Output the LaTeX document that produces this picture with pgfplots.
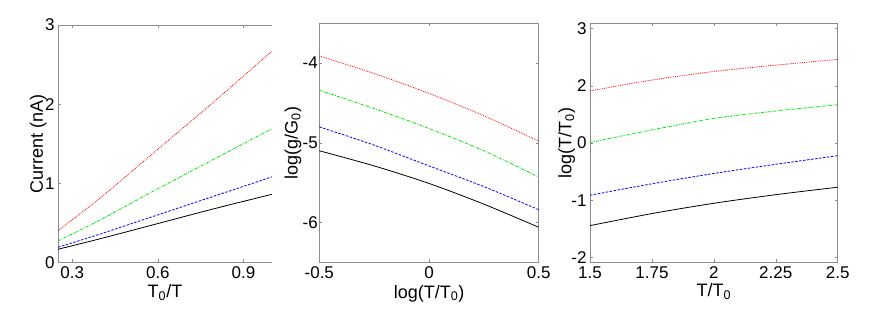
\documentclass[border=0pt]{standalone}
\usepackage{pgfplots}
\pgfplotsset{compat=1.18}
\usepackage{fontspec}
\setmainfont{Liberation Sans}
\definecolor{axgray}{RGB}{140,140,140}
\definecolor{mgreen}{RGB}{0,230,0}
\pgfplotsset{
  every axis/.append style={
    font=\fontsize{17}{20}\selectfont,
    scale only axis,
    anchor=south west,
    tick align=inside,
    major tick length=3pt,
    axis line style={axgray, line width=0.6pt},
    every tick/.style={axgray, line width=0.5pt},
    /pgf/number format/assume math mode=true,
    tick label style={black},
    xticklabel style={yshift=-1pt},
  },
  every axis x label/.style={at={(axis description cs:0.5,-0.15)}, anchor=base, black, font=\fontsize{18}{21}\selectfont},
  every axis y label/.style={rotate=90, anchor=center, black, font=\fontsize{18}{21}\selectfont},
  rline/.style={red, line width=0.8pt, densely dotted, smooth},
  gline/.style={mgreen, line width=0.8pt, dash pattern=on 3pt off 1.2pt on 0.8pt off 1.2pt, smooth},
  bline/.style={blue, line width=0.8pt, dash pattern=on 2.5pt off 1.5pt, smooth},
  kline/.style={black, line width=0.8pt, smooth},
}
\begin{document}
\begin{tikzpicture}
\useasboundingbox (0,0) rectangle (883pt,327pt);
% Panel 1
\begin{axis}[
  at={(58pt,64.7pt)}, width=214pt, height=237.3pt,
  axis x line*=box, axis y line*=left,
  xmin=0.25, xmax=1.0, ymin=0, ymax=3,
  xtick={0.3,0.6,0.9}, ytick={0,1,2,3},
  xlabel={T\textsubscript{0}/T}, ylabel={Current (nA)},
  ylabel style={at={(axis description cs:-0.092,0.5)}},
]
\addplot[rline] coordinates {(0.25,0.40) (0.4,0.82) (0.6,1.43) (0.8,2.04) (1.0,2.67)};
\addplot[gline] coordinates {(0.25,0.27) (0.4,0.54) (0.6,0.93) (0.8,1.31) (1.0,1.69)};
\addplot[bline] coordinates {(0.25,0.19) (0.4,0.36) (0.6,0.60) (0.8,0.84) (1.0,1.08)};
\addplot[kline] coordinates {(0.25,0.165) (0.4,0.30) (0.6,0.49) (0.8,0.68) (1.0,0.86)};
\end{axis}
% Panel 2
\begin{axis}[
  at={(319.3pt,64.7pt)}, width=219.4pt, height=239pt,
  xmin=-0.5, xmax=0.5, ymin=-6.5, ymax=-3.5,
  xtick={-0.5,0,0.5}, ytick={-6,-5,-4},
  xlabel={log(T/T\textsubscript{0})}, ylabel={log(g/G\textsubscript{0})},
  ylabel style={at={(axis description cs:-0.12,0.5)}},
  yticklabel style={xshift=2pt},
]
\addplot[rline] coordinates {(-0.5,-3.91) (-0.25,-4.13) (0,-4.38) (0.25,-4.66) (0.5,-4.98)};
\addplot[gline] coordinates {(-0.5,-4.34) (-0.25,-4.57) (0,-4.82) (0.25,-5.10) (0.5,-5.43)};
\addplot[bline] coordinates {(-0.5,-4.80) (-0.25,-5.03) (0,-5.29) (0.25,-5.55) (0.5,-5.84)};
\addplot[kline] coordinates {(-0.5,-5.10) (-0.25,-5.29) (0,-5.51) (0.25,-5.77) (0.5,-6.06)};
\end{axis}
% Panel 3
\begin{axis}[
  at={(590pt,64.7pt)}, width=247.7pt, height=239pt,
  xmin=1.5, xmax=2.5, ymin=-2.08, ymax=2.09,
  xtick={1.5,1.75,2,2.25,2.5}, xticklabels={1.5,1.75,2,2.25,2.5},
  ytick={-2,-1,0,1,2}, yticklabels={-2,-1,0,2,3},
  xlabel={T/T\textsubscript{0}}, ylabel={log(T/T\textsubscript{0})},
  xlabel style={at={(axis description cs:0.5,-0.145)}},
  ylabel style={at={(axis description cs:-0.094,0.5)}},
]
\addplot[rline] coordinates {(1.5,0.91) (1.75,1.10) (2,1.25) (2.25,1.36) (2.5,1.46)};
\addplot[gline] coordinates {(1.5,0.01) (1.75,0.23) (2,0.43) (2.25,0.56) (2.5,0.67)};
\addplot[bline] coordinates {(1.5,-0.91) (1.75,-0.71) (2,-0.53) (2.25,-0.37) (2.5,-0.22)};
\addplot[kline] coordinates {(1.5,-1.44) (1.75,-1.23) (2,-1.05) (2.25,-0.90) (2.5,-0.77)};
\end{axis}
\end{tikzpicture}
\end{document}
